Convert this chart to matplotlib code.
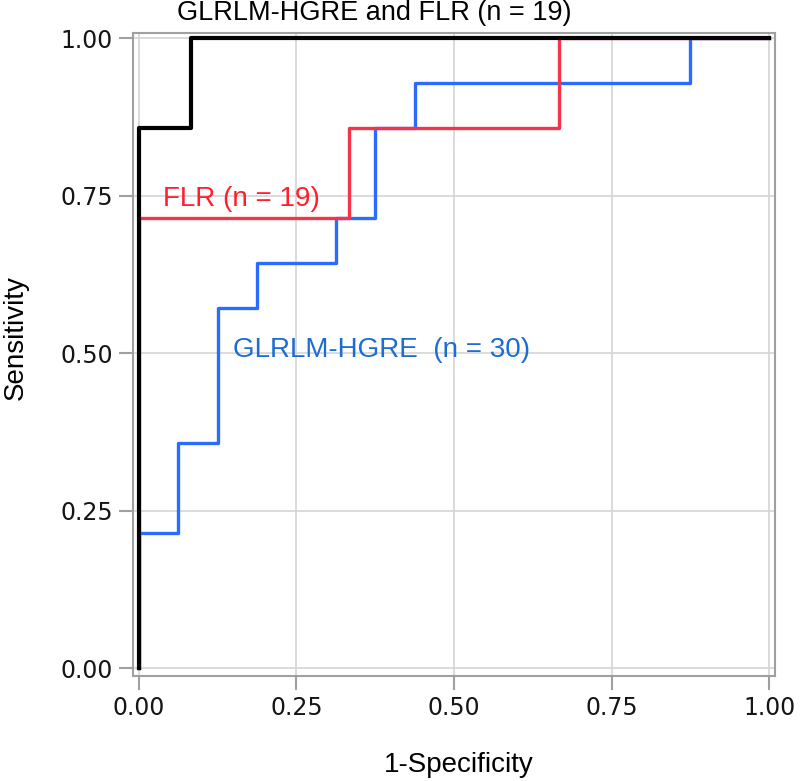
import numpy as np
import matplotlib
matplotlib.use('Agg')
import matplotlib.pyplot as plt

# ROC step points (fpr, tpr)
hgre_fpr = [0, 0, 0.0625, 0.0625, 0.125, 0.125, 0.1875, 0.1875, 0.3125, 0.3125,
            0.375, 0.375, 0.4375, 0.4375, 0.875, 0.875, 1.0]
hgre_tpr = [0, 0.214, 0.214, 0.357, 0.357, 0.571, 0.571, 0.643, 0.643, 0.714,
            0.714, 0.857, 0.857, 0.929, 0.929, 1.0, 1.0]

flr_fpr = [0, 0, 0.333, 0.333, 0.667, 0.667, 1.0]
flr_tpr = [0, 0.714, 0.714, 0.857, 0.857, 1.0, 1.0]

both_fpr = [0, 0, 0.083, 0.083, 1.0]
both_tpr = [0, 0.857, 0.857, 1.0, 1.0]

ticks = [0.0, 0.25, 0.5, 0.75, 1.0]
tick_labels = ['0.00', '0.25', '0.50', '0.75', '1.00']

fig = plt.figure(figsize=(8, 7.81), dpi=100)
ax = fig.add_axes([0.166, 0.1344, 0.803, 0.8233])

ax.plot(hgre_fpr, hgre_tpr, color='#2b6cff', lw=2.4, zorder=3)
ax.plot(flr_fpr, flr_tpr, color='#f5344c', lw=2.4, zorder=4)
ax.plot(both_fpr, both_tpr, color='#000000', lw=3.0, zorder=5)

ax.text(0.038, 0.733, 'FLR (n = 19)', color='#ff1f2a', fontsize=20,
        family='Liberation Sans', va='baseline', ha='left', zorder=6)
ax.text(0.149, 0.494, 'GLRLM-HGRE  (n = 30)', color='#1c6dd2', fontsize=20,
        family='Liberation Sans', va='baseline', ha='left', zorder=6)

ax.set_xlim(-0.0095, 1.0095)
ax.set_ylim(-0.0127, 1.008)
ax.set_xticks(ticks)
ax.set_xticklabels(tick_labels)
ax.set_yticks(ticks)
ax.set_yticklabels(tick_labels)
ax.grid(True, color='#d4d4d4', lw=1.2)
ax.set_axisbelow(True)
for s in ax.spines.values():
    s.set_color('#a0a0a0')
    s.set_linewidth(1.5)
ax.tick_params(axis='both', colors='#a0a0a0', length=10, width=1.5, labelsize=17,
               labelcolor='#151515', pad=4.5)

ax.set_xlabel('1-Specificity', fontsize=20, family='Liberation Sans', va='baseline')
ax.xaxis.set_label_coords(0.508, -0.149)
ax.set_ylabel('Sensitivity', fontsize=20, family='Liberation Sans', va='baseline')
ax.yaxis.set_label_coords(-0.171, 0.526)

fig.text(0.221, 1 - 20 / 781, 'GLRLM-HGRE and FLR (n = 19)', fontsize=19.5,
         family='Liberation Sans', va='baseline', ha='left')

plt.savefig('out.png', dpi=100)
